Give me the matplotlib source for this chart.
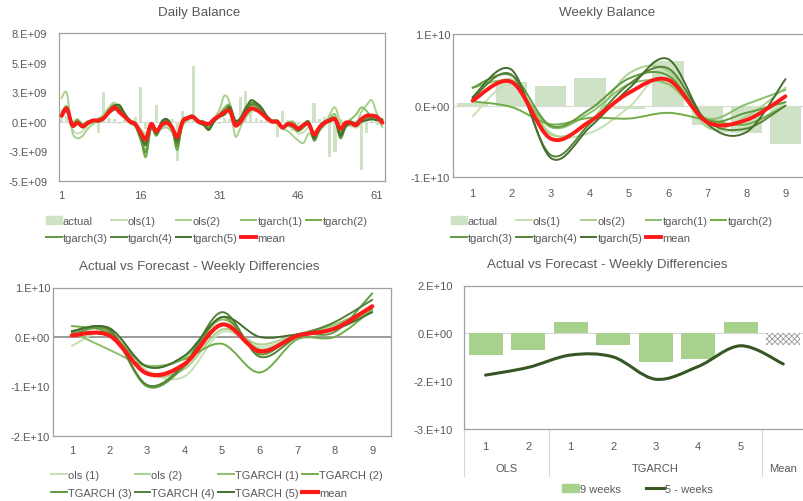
import numpy as np
import matplotlib
matplotlib.use("Agg")
import matplotlib.pyplot as plt
from matplotlib.path import Path
from matplotlib.patches import PathPatch, Patch
from matplotlib.lines import Line2D
from matplotlib.transforms import blended_transform_factory

plt.rcParams['font.family'] = ['Liberation Sans', 'DejaVu Sans']
plt.rcParams['hatch.linewidth'] = 0.6

# ---- daily balance (values in 1e9) ----
days = np.arange(1, 63)
daily_actual = [0.2, 0.5, -0.3, 0.1, -0.2, 0.1, -0.3, -1.0, 2.5, 0.3,
                0.2, -0.2, 0.1, 0.2, 0.4, 2.9, -0.6, -0.4, 1.4, -0.2,
                0.3, 0.2, -3.3, 0.9, 0.3, 4.7, 0.2, -0.2, -0.8, 0.1,
                -0.2, 0.3, 0.2, -0.5, 2.1, 2.6, 1.5, 0.3, 0.1, 0.2,
                -0.2, -1.3, 0.9, 0.1, -0.8, -0.5, -0.2, 0.1, 1.6, 0.2,
                0.4, -3.0, -2.6, 0.2, -0.2, 0.3, 0.1, -4.1, -1.0, 0.2,
                -0.3, 0.1]
daily_ols1 = [0.3, 0.8, -0.6, -1.0, -0.8, -0.3, 0.0, 0.3, 0.5, 0.9,
              1.3, 1.0, 0.5, 0.1, -0.3, -0.6, -1.0, -0.4, -0.7, -0.5,
              -0.3, -0.6, -0.9, -0.2, 0.1, 0.2, 0.1, 0.0, -0.1, 0.1,
              0.3, 0.6, 0.7, 0.1, 0.1, 0.4, 0.8, 0.9, 0.8, 0.4,
              0.1, 0.0, -0.4, -0.4, -0.6, -1.0, -0.9, -0.5, -0.8, -0.6,
              -0.3, 0.0, 0.3, -0.2, -0.3, -0.4, -0.5, -0.2, 0.3, 0.6,
              0.2, -0.4]
daily_ols2 = [2.0, 2.4, -0.8, -1.4, -1.2, -0.6, -0.2, 0.2, 0.6, 1.2,
              1.6, 1.1, 0.4, -0.1, -0.4, -0.8, -1.2, -0.6, -0.9, -0.6,
              -0.5, -0.9, -1.6, -0.4, 0.2, 0.3, 0.0, -0.2, -0.1, 0.3,
              1.0, 2.2, 1.5, -1.2, -0.5, 0.6, 1.2, 1.3, 0.9, 0.4,
              0.0, -0.2, -0.6, -0.8, -1.2, -1.6, -1.8, -1.0, -1.4, -0.7,
              -0.3, 0.6, 1.2, 0.0, -0.2, -0.3, -0.2, 0.8, 1.4, 1.8,
              0.6, -0.5]
daily_tg1 = [0.8, 1.3, 0.0, 0.2, -0.2, 0.0, 0.1, 0.0, 0.2, 0.9,
             1.4, 1.0, 0.5, 0.1, -0.1, -1.0, -2.4, -0.3, -1.0, -0.2,
             0.1, -0.4, -2.0, -0.1, 0.4, 0.5, 0.1, -0.3, -0.3, 0.1,
             0.6, 1.2, 1.4, 0.2, -0.2, 0.4, 1.0, 1.2, 0.9, 0.4,
             0.1, 0.1, -0.5, -0.1, 0.0, -0.5, -0.4, -0.1, -1.3, -0.7,
             -0.2, 0.3, 0.6, -0.8, -0.2, 0.2, 0.6, 1.2, 0.9, 0.3,
             0.2, 0.0]
daily_tg2 = [0.4, 1.0, -0.2, 0.1, -0.3, 0.0, 0.1, 0.1, 0.3, 0.9,
             1.1, 1.3, 0.6, 0.0, -0.3, -1.3, -3.0, -0.5, -1.2, -0.4,
             0.0, -0.6, -2.4, 0.1, 0.3, 0.4, 0.0, -0.2, -0.5, 0.1,
             0.5, 0.9, 1.1, -0.3, 0.1, 1.0, 1.5, 1.3, 0.9, 0.4,
             0.1, 0.0, -0.6, -0.3, -0.4, -0.7, -0.4, -0.3, -1.5, -0.6,
             -0.2, 0.0, 0.1, -1.1, -0.3, -0.2, -0.4, 0.0, 0.3, 0.4,
             0.3, 0.1]
daily_tg3 = [0.6, 1.2, -0.1, 0.0, -0.3, -0.1, 0.1, 0.2, 0.4, 1.0,
             1.4, 1.2, 0.5, -0.1, -0.4, -1.5, -2.6, -0.6, -1.1, -0.2,
             0.1, -0.7, -2.1, -0.2, 0.2, 0.4, 0.1, 0.0, -0.6, 0.0,
             0.6, 1.0, 1.3, 0.0, 0.3, 1.2, 1.6, 1.5, 1.0, 0.4,
             0.0, 0.0, -0.5, -0.3, -0.5, -0.8, -0.5, -0.1, -1.6, -0.8,
             -0.2, 0.1, 0.2, -1.4, -0.5, -0.1, -0.2, 0.1, 0.2, 0.3,
             0.2, 0.2]
daily_tg4 = [0.7, 1.1, -0.2, -0.1, -0.5, -0.2, 0.0, 0.1, 0.3, 0.7,
             1.0, 1.1, 0.4, 0.0, -0.2, -1.1, -2.0, -0.2, -0.9, -0.1,
             0.2, -0.4, -1.8, 0.0, 0.4, 0.5, 0.0, -0.1, -0.3, 0.2,
             0.4, 0.7, 1.0, -0.2, 0.2, 0.9, 1.4, 1.4, 1.1, 0.5,
             0.1, 0.0, -0.4, -0.2, -0.2, -0.6, -0.2, 0.0, -1.2, -0.5,
             0.0, 0.2, 0.3, -1.0, -0.2, 0.0, -0.1, 0.3, 0.4, 0.5,
             0.3, 0.2]
daily_tg5 = [0.5, 0.9, -0.4, -0.2, -0.4, -0.1, 0.1, 0.0, 0.2, 0.8,
             1.3, 1.4, 0.7, 0.1, -0.2, -1.2, -1.8, -0.4, -1.0, 0.0,
             0.2, -0.5, -1.6, 0.1, 0.3, 0.3, -0.1, -0.3, -0.7, 0.0,
             0.4, 0.6, 1.2, 0.1, 0.3, 1.1, 1.8, 1.6, 1.2, 0.5,
             0.0, -0.1, -0.5, -0.3, -0.3, -0.7, -0.3, -0.1, -1.4, -0.4,
             0.0, 0.1, 0.2, -1.2, -0.4, -0.2, -0.3, 0.0, 0.1, 0.2,
             0.1, 0.1]
daily_mean = [0.5, 1.1, -0.3, -0.1, -0.4, -0.1, 0.1, 0.1, 0.3, 0.8,
              1.2, 0.8, 0.4, 0.0, -0.2, -0.9, -1.5, -0.2, -0.8, -0.3,
              -0.1, -0.5, -1.3, 0.0, 0.3, 0.4, 0.0, -0.1, -0.2, 0.2,
              0.5, 0.8, 0.9, -0.3, 0.0, 0.7, 1.1, 1.0, 0.7, 0.3,
              0.0, 0.0, -0.5, -0.2, -0.3, -0.6, -0.3, -0.2, -1.1, -0.5,
              -0.1, 0.1, 0.2, -0.6, -0.1, -0.1, -0.3, 0.2, 0.5, 0.5,
              0.4, -0.1]
daily_yticks = [7.5e9, 5e9, 2.5e9, 0, -2.5e9, -5e9]
daily_ylabels = ['8.E+09', '5.E+09', '3.E+09', '0.E+00', '-3.E+09', '-5.E+09']
daily_xticks = [1, 16, 31, 46, 61]

# ---- weekly balance (values in 1e10) ----
weeks = np.arange(1, 10)
weekly_actual = [0.04, 0.33, 0.28, 0.39, -0.05, 0.62, -0.27, -0.38, -0.53]
weekly_ols1 = [-0.15, 0.30, -0.38, -0.38, -0.02, 0.48, -0.28, -0.30, 0.05]
weekly_ols2 = [0.05, 0.36, -0.40, -0.22, 0.45, 0.48, -0.30, -0.15, 0.25]
weekly_tg1 = [0.25, 0.32, -0.30, -0.10, 0.30, 0.30, -0.18, 0.02, 0.22]
weekly_tg2 = [0.06, -0.02, -0.26, -0.17, -0.18, -0.10, -0.20, -0.26, 0.00]
weekly_tg3 = [0.25, 0.42, -0.28, -0.05, 0.38, 0.42, -0.20, -0.10, 0.05]
weekly_tg4 = [0.10, 0.43, -0.69, -0.25, 0.30, 0.52, -0.22, -0.32, 0.00]
weekly_tg5 = [0.12, 0.50, -0.73, -0.30, 0.24, 0.65, -0.25, -0.37, 0.37]
weekly_mean = [0.07, 0.33, -0.46, -0.22, 0.18, 0.36, -0.23, -0.20, 0.13]

# ---- weekly differences (values in 1e10) ----
diff_ols1 = [-0.18, 0.10, -0.68, -0.80, 0.10, -0.20, 0.00, 0.20, 0.50]
diff_ols2 = [0.00, 0.05, -0.75, -0.65, 0.15, -0.15, 0.05, 0.20, 0.55]
diff_tg1 = [0.10, -0.26, -0.58, -0.42, 0.35, -0.25, 0.05, 0.25, 0.60]
diff_tg2 = [0.22, 0.08, -0.60, -0.45, -0.14, -0.72, -0.05, 0.00, 0.55]
diff_tg3 = [0.05, 0.12, -1.00, -0.60, 0.40, -0.35, 0.05, 0.10, 0.88]
diff_tg4 = [0.10, 0.15, -0.97, -0.55, 0.50, -0.40, 0.00, 0.30, 0.75]
diff_tg5 = [0.12, 0.18, -0.60, -0.38, 0.40, 0.00, 0.05, 0.15, 0.50]
diff_mean = [0.03, 0.03, -0.74, -0.55, 0.25, -0.29, 0.02, 0.17, 0.62]

# ---- model summary (values in 1e10) ----
model_ticks = ['1', '2', '1', '2', '3', '4', '5', '']
model_groups = ['OLS', 'TGARCH', 'Mean']
nine_weeks = [-0.68, -0.52, 0.35, -0.36, -0.89, -0.81, 0.35, -0.36]
five_weeks = [-1.31, -1.07, -0.68, -0.74, -1.44, -1.04, -0.39, -0.96]

TXT = '#595959'
SPINE = '#a0a0a0'
BAR_PALE = '#cfe2c6'
RED = '#ff1a1a'
line_colors = ['#c5e0b4', '#a9d18e', '#8cbf6a', '#70ad47', '#5f9a3d', '#548235', '#446e2b']


def smooth(ax, xs, ys, **kw):
    # excel-style smoothed line as cubic bezier segments
    pts = list(zip(xs, ys))
    n = len(pts)
    verts = [pts[0]]
    codes = [Path.MOVETO]
    for i in range(n - 1):
        p0 = pts[i - 1] if i > 0 else pts[i]
        p1, p2 = pts[i], pts[i + 1]
        p3 = pts[i + 2] if i + 2 < n else pts[i + 1]
        c1 = (p1[0] + (p2[0] - p0[0]) / 6, p1[1] + (p2[1] - p0[1]) / 6)
        c2 = (p2[0] - (p3[0] - p1[0]) / 6, p2[1] - (p3[1] - p1[1]) / 6)
        verts += [c1, c2, p2]
        codes += [Path.CURVE4] * 3
    ax.add_patch(PathPatch(Path(verts, codes), fill=False, capstyle='round',
                           joinstyle='round', **kw))


def style_axes(ax, right=True, ypad=2, xpad=7):
    for side in ['left', 'right', 'top', 'bottom']:
        ax.spines[side].set_color(SPINE)
        ax.spines[side].set_linewidth(0.9)
    if not right:
        ax.spines['right'].set_visible(False)
    ax.tick_params(length=0, labelsize=8, colors=TXT)
    ax.tick_params(axis='y', pad=ypad)
    ax.tick_params(axis='x', pad=xpad)


fig = plt.figure(figsize=(8.04, 5.02), dpi=100)
W, H = 804, 502


def box(x0, y0, x1, y1):
    return [x0 / W, 1 - y1 / H, (x1 - x0) / W, (y1 - y0) / H]


ax1 = fig.add_axes(box(59, 34, 385, 181.7))
ax2 = fig.add_axes(box(453, 35, 805, 178.3))
ax3 = fig.add_axes(box(53, 288.5, 391, 436.7))
ax4 = fig.add_axes(box(464.3, 286.5, 804.5, 430))

# ---- daily ----
ax1.bar(days, np.array(daily_actual) * 1e9, width=0.6, color=BAR_PALE, zorder=1)
ax1.axhline(0, color='#d9d9d9', lw=0.8, zorder=0)
daily_lines = [daily_ols1, daily_ols2, daily_tg1, daily_tg2, daily_tg3, daily_tg4, daily_tg5]
for vals, c in zip(daily_lines, line_colors):
    smooth(ax1, days, np.array(vals) * 1e9, edgecolor=c, linewidth=1.4, zorder=2)
smooth(ax1, days, np.array(daily_mean) * 1e9, edgecolor=RED, linewidth=2.8, zorder=3)
ax1.set_xlim(0.5, 62.5)
ax1.set_ylim(-5e9, 7.5e9)
ax1.set_xticks(daily_xticks)
ax1.set_yticks(daily_yticks)
ax1.set_yticklabels(daily_ylabels)
style_axes(ax1, ypad=8.5)

# ---- weekly ----
ax2.bar(weeks, np.array(weekly_actual) * 1e10, width=0.8, color=BAR_PALE, zorder=1)
ax2.axhline(0, color='#d9d9d9', lw=0.8, zorder=0)
weekly_lines = [weekly_ols1, weekly_ols2, weekly_tg1, weekly_tg2, weekly_tg3, weekly_tg4, weekly_tg5]
for vals, c in zip(weekly_lines, line_colors):
    smooth(ax2, weeks, np.array(vals) * 1e10, edgecolor=c, linewidth=1.4, zorder=2)
smooth(ax2, weeks, np.array(weekly_mean) * 1e10, edgecolor=RED, linewidth=2.8, zorder=3)
ax2.set_xlim(0.5, 9.5)
ax2.set_ylim(-1e10, 1e10)
ax2.set_xticks(weeks)
ax2.set_yticks([1e10, 0, -1e10])
ax2.set_yticklabels(['1.E+10', '0.E+00', '-1.E+10'])
style_axes(ax2, right=False, xpad=8)

# ---- weekly differences ----
ax3.axhline(0, color='#808080', lw=1.1, zorder=1)
diff_lines = [diff_ols1, diff_ols2, diff_tg1, diff_tg2, diff_tg3, diff_tg4, diff_tg5]
for vals, c in zip(diff_lines, line_colors):
    smooth(ax3, weeks, np.array(vals) * 1e10, edgecolor=c, linewidth=1.4, zorder=2)
smooth(ax3, weeks, np.array(diff_mean) * 1e10, edgecolor=RED, linewidth=3.0, zorder=3)
ax3.set_xlim(0.5, 9.5)
ax3.set_ylim(-2e10, 1e10)
ax3.set_xticks(weeks)
ax3.set_yticks([1e10, 0, -1e10, -2e10])
ax3.set_yticklabels(['1.E+10', '0.E+00', '-1.E+10', '-2.E+10'])
style_axes(ax3)

# ---- model summary ----
pos = np.arange(len(nine_weeks))
ax4.axhline(0, color='#d9d9d9', lw=0.8, zorder=0)
ax4.bar(pos[:-1], np.array(nine_weeks[:-1]) * 1e10, width=0.8, color='#a9d18e', zorder=1)
ax4.bar(pos[-1:], np.array(nine_weeks[-1:]) * 1e10, width=0.8, facecolor='white',
        edgecolor='#9a9a9a', hatch='xxxxxx', linewidth=0, zorder=1)
smooth(ax4, pos, np.array(five_weeks) * 1e10, edgecolor='#375623', linewidth=2.2, zorder=2)
ax4.set_xlim(-0.5, 7.5)
ax4.set_ylim(-3e10, 1.5e10)
ax4.set_xticks(pos)
ax4.set_xticklabels(model_ticks)
ax4.set_yticks([1.5e10, 0, -1.5e10, -3e10])
ax4.set_yticklabels(['2.E+10', '0.E+00', '-2.E+10', '-3.E+10'])
style_axes(ax4, right=False, ypad=8, xpad=9)
tr = blended_transform_factory(ax4.transData, ax4.transAxes)
for xs in [-0.5, 1.5, 6.5]:
    ax4.plot([xs, xs], [0, -0.33], transform=tr, color='#d9d9d9', lw=0.8, clip_on=False)
for label, xc in zip(model_groups, [0.5, 4, 7]):
    ax4.text(xc, -0.27, label, transform=tr, ha='center', va='center', fontsize=8, color=TXT)

# ---- titles ----
for txt, x, y in [('Daily Balance', 199, 13), ('Weekly Balance', 607, 13),
                  ('Actual vs Forecast - Weekly Differencies', 199, 267),
                  ('Actual vs Forecast - Weekly Differencies', 607, 265)]:
    fig.text(x / W, 1 - y / H, txt, ha='center', va='center', fontsize=9.6, color=TXT)

# ---- legends ----
def lh(c, lw=1.4):
    return Line2D([], [], color=c, lw=lw)


leg_kw = dict(frameon=False, fontsize=8, labelcolor=TXT, handlelength=1.4,
              handletextpad=0.1, columnspacing=0.3, borderaxespad=0, borderpad=0)

top_names = ['ols(1)', 'ols(2)', 'tgarch(1)', 'tgarch(2)', 'tgarch(3)', 'tgarch(4)', 'tgarch(5)']
top_h = [Patch(color=BAR_PALE)] + [lh(c) for c in line_colors] + [lh(RED, 2.8)]
top_l = ['actual'] + top_names + ['mean']
order = [0, 5, 1, 6, 2, 7, 3, 8, 4]
for x0 in [46, 451]:
    fig.legend([top_h[i] for i in order], [top_l[i] for i in order],
               loc='upper left', bbox_to_anchor=(x0 / W, 1 - 217 / H), ncol=5,
               labelspacing=0.6, **leg_kw)

diff_names = ['ols (1)', 'ols (2)', 'TGARCH (1)', 'TGARCH (2)', 'TGARCH (3)', 'TGARCH (4)', 'TGARCH (5)']
diff_h = [lh(c) for c in line_colors] + [lh(RED, 3.0)]
diff_l = diff_names + ['mean']
order3 = [0, 4, 1, 5, 2, 6, 3, 7]
fig.legend([diff_h[i] for i in order3], [diff_l[i] for i in order3],
           loc='upper left', bbox_to_anchor=(51 / W, 1 - 471 / H), ncol=4,
           labelspacing=0.75, **leg_kw)

fig.legend([Patch(color='#a9d18e'), lh('#375623', 2.2)], ['9 weeks', '5 - weeks'],
           loc='center', bbox_to_anchor=(637 / W, 1 - 490 / H), ncol=2,
           frameon=False, fontsize=8, labelcolor=TXT, handlelength=1.6,
           handletextpad=0.1, columnspacing=2.2, borderaxespad=0, borderpad=0)

fig.savefig('out.png', dpi=100)
